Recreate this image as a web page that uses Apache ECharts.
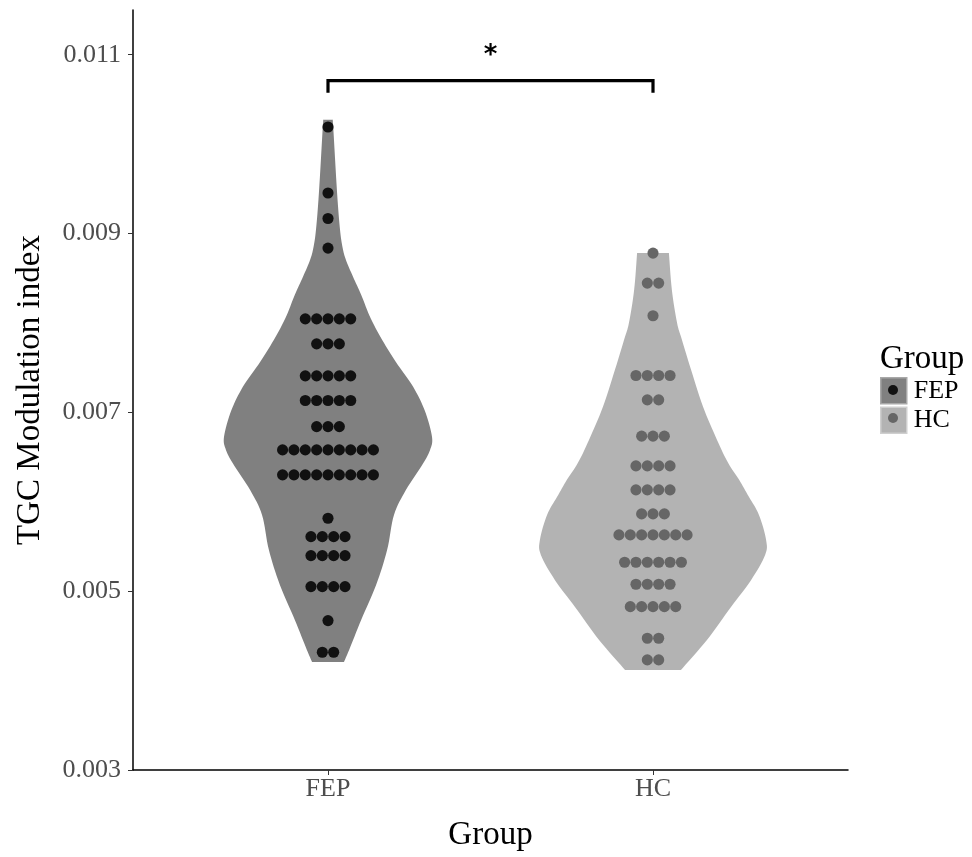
<!DOCTYPE html>
<html><head><meta charset="utf-8">
<script src="https://cdn.jsdelivr.net/npm/echarts@6/dist/echarts.min.js"></script>
<style>html,body{margin:0;padding:0;background:#fff}#c{width:972px;height:857px}</style>
</head><body><div id="c"></div>
<script>
// ---- data ----
const categories = ['FEP', 'HC'];
const categoryPositions = [1, 2];
const yTickValues = [0.003, 0.005, 0.007, 0.009, 0.011];

// dot rows (binned values) and how many dots are stacked in each row
const fepRowValues = [0.010191, 0.009453, 0.009168, 0.008837, 0.008046, 0.007766, 0.007408, 0.007132, 0.006841, 0.006580, 0.006301, 0.005816, 0.005610, 0.005398, 0.005051, 0.004671, 0.004317];
const fepRowCounts = [1, 1, 1, 1, 5, 3, 5, 5, 3, 9, 9, 1, 4, 4, 4, 1, 2];
const hcRowValues = [0.008781, 0.008446, 0.008080, 0.007412, 0.007140, 0.006734, 0.006401, 0.006133, 0.005864, 0.005629, 0.005324, 0.005078, 0.004827, 0.004474, 0.004231];
const hcRowCounts = [1, 2, 1, 4, 2, 3, 4, 4, 3, 7, 6, 4, 5, 2, 2];
const binWidth = 0.000127;

// violin outlines: y value and half-width (in category units)
const fepViolinY = [0.010273, 0.010195, 0.009453, 0.009042, 0.008841, 0.008706, 0.008516, 0.008315, 0.008046, 0.007778, 0.007531, 0.007285, 0.007017, 0.006726, 0.006580, 0.006424, 0.006133, 0.005853, 0.005462, 0.005070, 0.004678, 0.004343, 0.004208];
const fepViolinHalfWidth = [0.014, 0.016, 0.028, 0.037, 0.045, 0.055, 0.077, 0.102, 0.132, 0.172, 0.215, 0.262, 0.298, 0.320, 0.314, 0.292, 0.240, 0.203, 0.182, 0.148, 0.102, 0.065, 0.049];
const hcViolinY = [0.008781, 0.008371, 0.008001, 0.007811, 0.007442, 0.007062, 0.006692, 0.006435, 0.006245, 0.006055, 0.005853, 0.005573, 0.005406, 0.005126, 0.004824, 0.004455, 0.004119];
const hcViolinHalfWidth = [0.049, 0.058, 0.074, 0.089, 0.120, 0.154, 0.197, 0.231, 0.265, 0.295, 0.326, 0.348, 0.345, 0.302, 0.240, 0.166, 0.086];

// significance bracket
const bracketFrom = 1, bracketTo = 2;
const bracketTop = 0.010709, bracketBottom = 0.010575, starValue = 0.010985;
const starLabel = '*';

// ---- styles ----
const violinColors = ['#808080', '#b3b3b3'];
const dotColors = ['#111111', '#666666'];
const serif = '"Liberation Serif", "Times New Roman", serif';

const chart = echarts.init(document.getElementById('c'), null, {renderer: 'canvas'});

// Catmull-Rom densification of an open outline (pixel space, drawing only)
function smoothSide(pts) {
  const out = [];
  const n = pts.length;
  for (let i = 0; i < n - 1; i++) {
    const p0 = pts[Math.max(0, i - 1)], p1 = pts[i], p2 = pts[i + 1], p3 = pts[Math.min(n - 1, i + 2)];
    for (let k = 0; k < 8; k++) {
      const t = k / 8, t2 = t * t, t3 = t2 * t;
      out.push([0, 1].map(j => 0.5 * ((2 * p1[j]) + (-p0[j] + p2[j]) * t + (2 * p0[j] - 5 * p1[j] + 4 * p2[j] - p3[j]) * t2 + (-p0[j] + 3 * p1[j] - 3 * p2[j] + p3[j]) * t3)));
    }
  }
  out.push(pts[n - 1]);
  return out;
}

function violinSeries(name, pos, ys, hws, color) {
  return {
    type: 'custom', name: name, itemStyle: {color: color},
    data: [[pos]], z: 1,
    renderItem: function (params, api) {
      const left = [], right = [];
      for (let i = 0; i < ys.length; i++) left.push(api.coord([pos - hws[i], ys[i]]));
      for (let i = ys.length - 1; i >= 0; i--) right.push(api.coord([pos + hws[i], ys[i]]));
      const pts = smoothSide(left).concat(smoothSide(right));
      return {type: 'polygon', shape: {points: pts}, style: {fill: color, stroke: null}};
    }
  };
}

function dotSeries(name, pos, vals, counts, color) {
  return {
    type: 'custom', name: name + ' dots', z: 2,
    data: vals.map((v, i) => [pos, v, counts[i]]),
    renderItem: function (params, api) {
      const c = api.coord([api.value(0), api.value(1)]);
      const d = api.size([0, binWidth])[1];
      const n = api.value(2);
      const kids = [];
      for (let i = 0; i < n; i++) {
        kids.push({type: 'circle', shape: {cx: c[0] + (i - (n - 1) / 2) * d, cy: c[1], r: d / 2 * 0.98}, style: {fill: color}});
      }
      return {type: 'group', children: kids};
    }
  };
}

const option = {
  animation: false,
  backgroundColor: '#ffffff',
  grid: {left: 133, right: 124, top: 10, bottom: 87, containLabel: false, outerBoundsMode: 'none'},
  xAxis: {
    type: 'value', min: 0.4, max: 2.6,
    name: 'Group', nameLocation: 'middle', nameGap: 49,
    nameTextStyle: {fontFamily: serif, fontSize: 33, color: '#000'},
    axisLine: {show: true, lineStyle: {color: '#000', width: 1.5}},
    axisTick: {show: true, length: 5, lineStyle: {color: '#333', width: 1}, customValues: categoryPositions},
    axisLabel: {customValues: categoryPositions, margin: 6, fontFamily: serif, fontSize: 26, color: '#4d4d4d',
      formatter: v => categories[categoryPositions.indexOf(Math.round(v))] || ''},
    splitLine: {show: false}
  },
  yAxis: {
    type: 'value', min: 0.003, max: 0.0115,
    name: 'TGC Modulation index', nameLocation: 'middle', nameGap: 86, nameRotate: 90,
    nameTextStyle: {fontFamily: serif, fontSize: 33, color: '#000'},
    axisLine: {show: true, lineStyle: {color: '#000', width: 1.5}},
    axisTick: {show: true, length: 5, lineStyle: {color: '#333', width: 1}, customValues: yTickValues},
    axisLabel: {customValues: yTickValues, margin: 12, fontFamily: serif, fontSize: 26, color: '#4d4d4d',
      formatter: v => v.toFixed(3)},
    splitLine: {show: false}
  },
  legend: {
    left: 880, top: 377, orient: 'vertical', padding: 0, itemGap: 2,
    itemWidth: 26, itemHeight: 26, icon: 'rect',
    textStyle: {fontFamily: serif, fontSize: 26, color: '#000', padding: [0, 0, 0, 2]},
    data: [
      {name: 'FEP', itemStyle: {color: violinColors[0], borderColor: '#a8a8a8', borderWidth: 1.5}},
      {name: 'HC', itemStyle: {color: violinColors[1], borderColor: '#cfcfcf', borderWidth: 1.5}}
    ]
  },
  graphic: [
    {type: 'text', left: 880, top: 343, style: {text: 'Group', font: '33px ' + serif, fill: '#000'}},
    {type: 'circle', shape: {cx: 893, cy: 390, r: 5}, style: {fill: dotColors[0]}, z: 100},
    {type: 'circle', shape: {cx: 893, cy: 418, r: 5}, style: {fill: dotColors[1]}, z: 100}
  ],
  series: [
    violinSeries('FEP', categoryPositions[0], fepViolinY, fepViolinHalfWidth, violinColors[0]),
    violinSeries('HC', categoryPositions[1], hcViolinY, hcViolinHalfWidth, violinColors[1]),
    dotSeries('FEP', categoryPositions[0], fepRowValues, fepRowCounts, dotColors[0]),
    dotSeries('HC', categoryPositions[1], hcRowValues, hcRowCounts, dotColors[1]),
    {
      type: 'custom', name: 'bracket', z: 3,
      data: [[bracketFrom, bracketTo, bracketTop, bracketBottom, starValue]],
      renderItem: function (params, api) {
        const a = api.coord([api.value(0), api.value(3)]);
        const b = api.coord([api.value(0), api.value(2)]);
        const c = api.coord([api.value(1), api.value(2)]);
        const d = api.coord([api.value(1), api.value(3)]);
        const s = api.coord([(api.value(0) + api.value(1)) / 2, api.value(4)]);
        return {type: 'group', children: [
          {type: 'polyline', shape: {points: [a, b, c, d]}, style: {stroke: '#000', lineWidth: 3.2, fill: null, lineJoin: 'miter'}},
          {type: 'text', style: {text: starLabel, x: s[0], y: s[1], align: 'center', verticalAlign: 'middle',
            font: 'bold 26px "DejaVu Sans", sans-serif', fill: '#000'}}
        ]};
      }
    }
  ]
};
chart.setOption(option);
</script>
</body></html>
